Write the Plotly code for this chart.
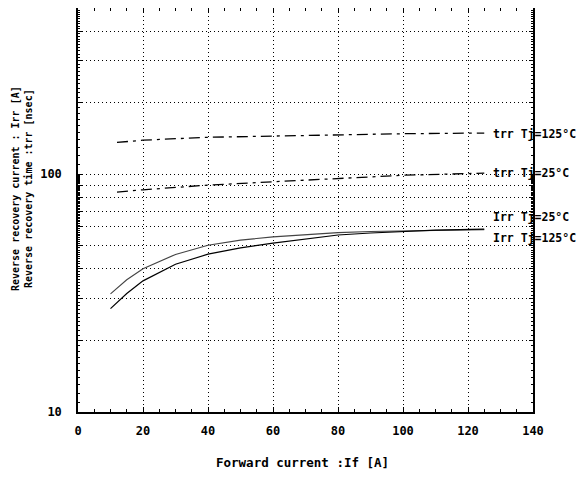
import math
import plotly.graph_objects as go

# ---- data ----
trr_x = [12, 20, 40, 60, 80, 100, 125]
trr_125 = [136, 139, 143, 145, 147, 148, 149]
trr_25 = [84, 86, 90, 93, 96, 99, 101]

irr_x = [10, 15, 20, 30, 40, 50, 60, 70, 80, 90, 100, 110, 125]
irr_25 = [31.4, 36, 40, 46, 50.3, 52.8, 54.5, 55.8, 56.8, 57.4, 57.8, 58.2, 58.5]
irr_125 = [27.2, 31.5, 35.6, 41.8, 46.1, 49, 51.3, 53.5, 55.5, 56.6, 57.5, 58.2, 58.8]

x_ticks = [0, 20, 40, 60, 80, 100, 120, 140]
y_grid = [10, 20, 30, 40, 50, 60, 70, 80, 90, 100, 200, 300, 400, 500]
y_labels = ["10", "", "", "", "", "", "", "", "", "100", "", "", "", ""]
y_minor = [v for v in range(11, 100) if v % 10] + [v for v in range(110, 500, 10) if v % 100]

curve_labels = ["trr Tj=125\u00b0C", "trr Tj=25\u00b0C", "Irr Tj=25\u00b0C", "Irr Tj=125\u00b0C"]
curve_label_y = [147, 101, 66, 54]

FONT = "DejaVu Sans Mono, Liberation Mono, monospace"

# plot-area geometry (page pixels; the page body adds an 8px offset)
W, H = 578, 469
ML, MR, MT, MB = 70, 53, 0, 65
PW, PH = W - ML - MR, H - MT - MB


def px_x(px):
    return (px - 8 - ML) / PW


def px_y(py):
    return 1 - (py - 8 - MT) / PH


fig = go.Figure()
dash_pat = "11px,5px,3px,5px"
fig.add_trace(go.Scatter(x=trr_x, y=trr_125, mode="lines",
                         line=dict(color="black", width=1.3, dash=dash_pat)))
fig.add_trace(go.Scatter(x=trr_x, y=trr_25, mode="lines",
                         line=dict(color="black", width=1.3, dash=dash_pat)))
fig.add_trace(go.Scatter(x=irr_x, y=irr_25, mode="lines",
                         line=dict(color="#444444", width=1.1)))
fig.add_trace(go.Scatter(x=irr_x, y=irr_125, mode="lines",
                         line=dict(color="black", width=1.2)))

for txt, yv in zip(curve_labels, curve_label_y):
    fig.add_annotation(x=127.0, y=math.log10(yv), xref="x", yref="y", text=txt,
                       showarrow=False, xanchor="left", yanchor="middle",
                       font=dict(family=FONT, size=11.5, color="black", weight="bold"))

fig.add_annotation(x=px_x(302), y=px_y(463), xref="paper", yref="paper",
                   text="Forward current :If [A]", showarrow=False,
                   xanchor="center", yanchor="middle",
                   font=dict(family=FONT, size=12.5, color="black", weight="bold"))
fig.add_annotation(x=px_x(22), y=px_y(189), xref="paper", yref="paper",
                   text="Reverse recovery current : Irr [A]<br>Reverse recovery time :trr [nsec]",
                   showarrow=False, textangle=-90, xanchor="center", yanchor="middle",
                   font=dict(family=FONT, size=10, color="black", weight="bold"))

fig.update_layout(
    width=W, height=H,
    margin=dict(l=ML, r=MR, t=MT, b=MB, autoexpand=False),
    paper_bgcolor="white", plot_bgcolor="white",
    showlegend=False,
    font=dict(family=FONT, size=12, color="black"),
)
fig.update_xaxes(
    range=[0, 140], tickvals=x_ticks, ticks="inside", ticklen=5, tickcolor="black",
    showline=True, linecolor="black", linewidth=1.5, mirror="ticks",
    showgrid=True, gridcolor="black", gridwidth=1, griddash="1px,3px",
    zeroline=False, ticklabelstandoff=7,
    minor=dict(dtick=5, ticks="inside", ticklen=3, tickcolor="black", showgrid=False),
    tickfont=dict(family=FONT, size=12, weight="bold"),
)
fig.update_yaxes(
    type="log", range=[1, math.log10(500)], tickvals=y_grid, ticktext=y_labels,
    ticks="inside", ticklen=4, tickcolor="black",
    showline=True, linecolor="black", linewidth=1.5, mirror="ticks",
    showgrid=True, gridcolor="black", gridwidth=1, griddash="1px,3px",
    zeroline=False, ticklabelstandoff=12,
    minor=dict(tickvals=y_minor, ticks="inside", ticklen=2, tickcolor="black", showgrid=False),
    tickfont=dict(family=FONT, size=12, weight="bold"),
)

fig.write_html("out.html")
